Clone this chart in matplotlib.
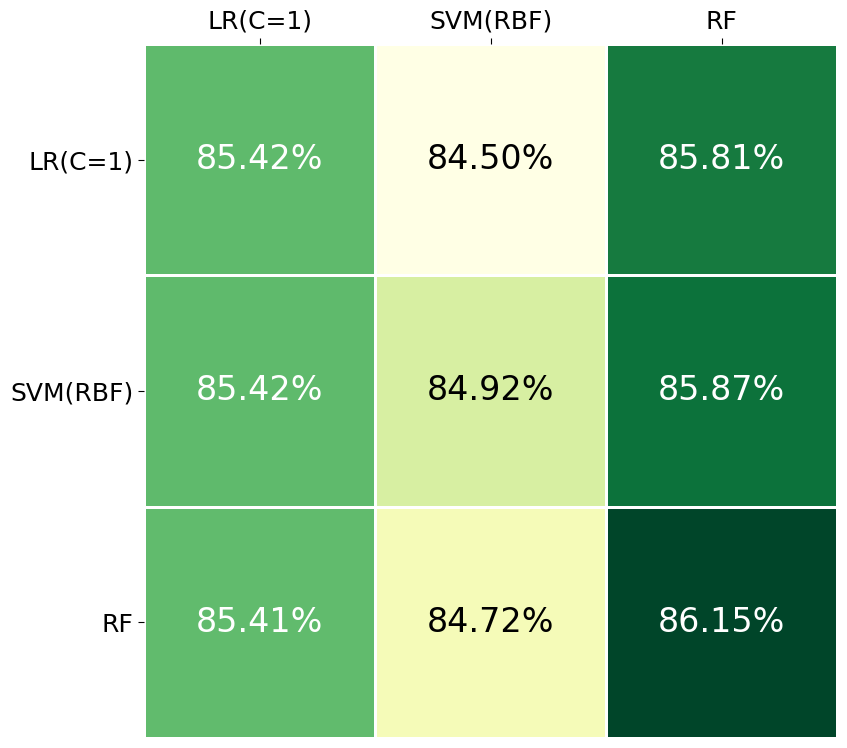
import numpy as np
import matplotlib
matplotlib.use("Agg")
import matplotlib.pyplot as plt

models = ['LR(C=1)', 'SVM(RBF)', 'RF']
acc = np.array([
    [85.42, 84.50, 85.81],
    [85.42, 84.92, 85.87],
    [85.41, 84.72, 86.15],
])

fig = plt.figure(figsize=(8.47, 7.48), dpi=100)
ax = fig.add_axes([144 / 847, 1 - 738 / 748, 693 / 847, 694 / 748])

vmin, vmax = acc.min(), acc.max()
ax.pcolormesh(acc, cmap='YlGn', vmin=vmin, vmax=vmax,
              edgecolors='white', linewidth=2)
ax.set_xlim(0, 3)
ax.set_ylim(3, 0)

mid = (vmin + vmax) / 2
for i in range(3):
    for j in range(3):
        v = acc[i, j]
        ax.text(j + 0.5, i + 0.5, '%.2f%%' % v, ha='center', va='center',
                fontsize=24, color='white' if v > mid else 'black')

ax.xaxis.tick_top()
ax.set_xticks(np.arange(3) + 0.5)
ax.set_yticks(np.arange(3) + 0.5)
ax.set_xticklabels(models, fontsize=18)
ax.set_yticklabels(models, fontsize=18)
ax.tick_params(length=4, width=0.8)
for s in ax.spines.values():
    s.set_visible(False)

fig.savefig('out.png', dpi=100)
